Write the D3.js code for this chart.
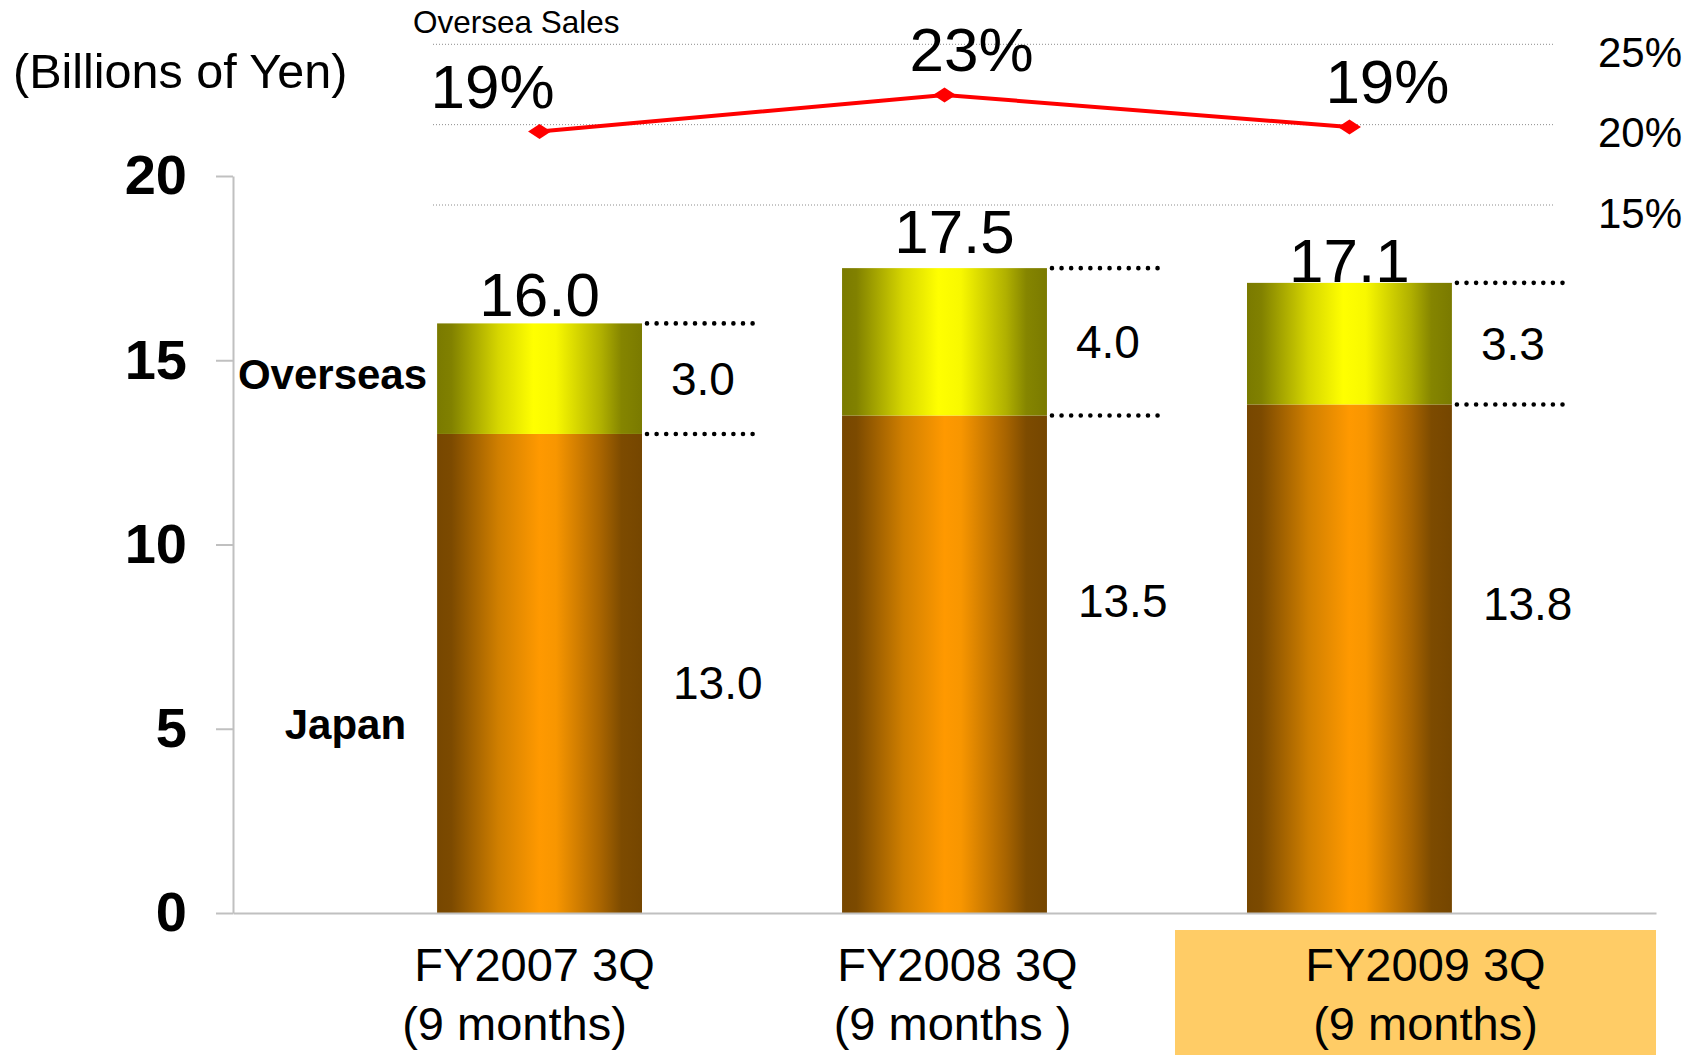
<!DOCTYPE html>
<html>
<head>
<meta charset="utf-8">
<script src="https://cdn.jsdelivr.net/npm/d3@7"></script>
<style>
  html, body { margin: 0; padding: 0; background: #fff; }
  svg { display: block; font-family: "Liberation Sans", Arial, sans-serif; }
</style>
</head>
<body>
<svg id="chart" width="1692" height="1055"></svg>
<script>
// Sales by region, nine-month cumulative figures (billions of yen)
const categories = ["FY2007 3Q", "FY2008 3Q", "FY2009 3Q"];
const periodLabels = ["(9 months)", "(9 months )", "(9 months)"];
const japanSales = [13.0, 13.5, 13.8];
const overseasSales = [3.0, 4.0, 3.3];
const totalSales = [16.0, 17.5, 17.1];
const overseasShare = [18.8, 22.9, 19.3];   // overseas share of sales, %
const salesTicks = [0, 5, 10, 15, 20];
const shareTicks = [15, 20, 25];
const highlighted = "FY2009 3Q";

// Hand-placed label nudges (pixels), one per period
const shareLabelShiftX = [-47, 27, 38];
const japanLabelShiftY = [10, -63, -55];
const totalLabelGap = [7, 15, 1];
const catLabelShiftX = [-5, 13, 0];
const periodLabelShiftX = [-25, 8, 0];

const svg = d3.select("#chart");
const W = 1692, H = 1055;

// Scales
const axisX = 233, axisRight = 1656;
const x = d3.scaleBand().domain(categories).range([axisX, axisRight])
  .paddingInner(0.494).paddingOuter(0.504);
const y = d3.scaleLinear().domain([0, 20]).range([913, 176]);
const yShare = d3.scaleLinear().domain([15, 25]).range([205, 44.3]);
const yLine = d3.scaleLinear().domain([18.8, 22.9]).range([131.5, 95]);

// Gradients for cylinder-like bars
const defs = svg.append("defs");
function grad(id, stops) {
  const g = defs.append("linearGradient").attr("id", id)
    .attr("x1", 0).attr("x2", 1).attr("y1", 0).attr("y2", 0);
  stops.forEach(([o, c]) => g.append("stop").attr("offset", o).attr("stop-color", c));
}
grad("japanGrad", [[0, "#774700"], [0.07, "#7c4a00"], [0.3, "#d07f00"], [0.5, "#ff9900"],
  [0.58, "#f89600"], [0.8, "#a86400"], [0.9, "#7d4b00"], [1, "#754600"]]);
grad("overseasGrad", [[0, "#7a7a00"], [0.07, "#818100"], [0.3, "#d6d600"], [0.47, "#ffff00"],
  [0.58, "#f8f800"], [0.8, "#b0b000"], [0.9, "#858500"], [1, "#7a7a00"]]);

// Highlight box behind the latest period label
const hlX = x(highlighted) - 72;
svg.append("rect")
  .attr("x", hlX).attr("y", 930)
  .attr("width", axisRight - hlX).attr("height", H - 930)
  .attr("fill", "#ffcc66");

// Share gridlines (dotted)
svg.append("g").selectAll("line").data(shareTicks).join("line")
  .attr("x1", 433).attr("x2", 1555)
  .attr("y1", d => yShare(d)).attr("y2", d => yShare(d))
  .attr("stroke", "#8c8c8c").attr("stroke-width", 1)
  .attr("stroke-dasharray", "1,2");

svg.append("g").selectAll("text").data(shareTicks).join("text")
  .attr("x", 1682).attr("y", d => yShare(d) + 8)
  .attr("text-anchor", "end").attr("dominant-baseline", "central")
  .attr("font-size", 42).text(d => d + "%");

// Titles
svg.append("text").attr("x", 13).attr("y", 88)
  .attr("font-size", 48.5).text("(Billions of Yen)");
svg.append("text").attr("x", 413).attr("y", 33)
  .attr("font-size", 31.5).text("Oversea Sales");

// Y axis
const yAxis = svg.append("g").attr("transform", `translate(${axisX},0)`)
  .call(d3.axisLeft(y).tickValues(salesTicks).tickSize(17).tickSizeOuter(0).tickPadding(29));
yAxis.select(".domain").attr("stroke", "#c0c0c0").attr("stroke-width", 2);
yAxis.selectAll(".tick line").attr("stroke", "#c0c0c0").attr("stroke-width", 2);
yAxis.selectAll(".tick text").attr("font-size", 56).attr("font-weight", "bold")
  .attr("fill", "#000").attr("font-family", "Liberation Sans, Arial, sans-serif");

// Total labels (drawn beneath bars)
const rows = categories.map((c, i) => ({
  i, cat: c, japan: japanSales[i], overseas: overseasSales[i], total: totalSales[i],
  share: overseasShare[i], period: periodLabels[i]
}));

svg.append("g").selectAll("text").data(rows).join("text")
  .attr("x", d => x(d.cat) + x.bandwidth() / 2 + (d.i === 1 ? 10 : 0))
  .attr("y", d => y(d.total) - totalLabelGap[d.i])
  .attr("text-anchor", "middle").attr("font-size", 62)
  .text(d => d3.format(".1f")(d.total));

// Stacked bars
const bars = svg.append("g");
bars.selectAll("rect.japan").data(rows).join("rect").attr("class", "japan")
  .attr("x", d => x(d.cat)).attr("width", x.bandwidth())
  .attr("y", d => y(d.japan)).attr("height", d => y(0) - y(d.japan))
  .attr("fill", "url(#japanGrad)");
bars.selectAll("rect.overseas").data(rows).join("rect").attr("class", "overseas")
  .attr("x", d => x(d.cat)).attr("width", x.bandwidth())
  .attr("y", d => y(d.japan + d.overseas)).attr("height", d => y(d.japan) - y(d.japan + d.overseas))
  .attr("fill", "url(#overseasGrad)");

// X axis baseline
const xAxis = svg.append("g").attr("transform", `translate(0,${y(0)})`)
  .call(d3.axisBottom(x).tickSize(0).tickFormat(""));
xAxis.select(".domain").attr("stroke", "#c0c0c0").attr("stroke-width", 2);

// Dotted leaders at the segment boundaries
const leaders = svg.append("g");
rows.forEach(d => {
  [d.japan + d.overseas, d.japan].forEach(v => {
    leaders.append("line")
      .attr("x1", x(d.cat) + x.bandwidth() + 5).attr("x2", x(d.cat) + x.bandwidth() + 112)
      .attr("y1", y(v)).attr("y2", y(v))
      .attr("stroke", "#000").attr("stroke-width", 4.6)
      .attr("stroke-linecap", "round").attr("stroke-dasharray", "0,9.6");
  });
});

// Segment value labels
const segLabels = svg.append("g").attr("font-size", 46);
segLabels.selectAll("text.ov").data(rows).join("text").attr("class", "ov")
  .attr("x", d => x(d.cat) + x.bandwidth() + 29)
  .attr("y", d => y(d.japan + d.overseas / 2))
  .attr("dominant-baseline", "central")
  .text(d => d3.format(".1f")(d.overseas));
segLabels.selectAll("text.jp").data(rows).join("text").attr("class", "jp")
  .attr("x", d => x(d.cat) + x.bandwidth() + 31)
  .attr("y", d => y(d.japan / 2) + japanLabelShiftY[d.i])
  .attr("dominant-baseline", "central")
  .text(d => d3.format(".1f")(d.japan));

// Series names beside the first bar
const first = rows[0];
svg.append("text")
  .attr("x", x(first.cat) - 10).attr("y", y(first.japan + first.overseas / 2) - 4)
  .attr("text-anchor", "end").attr("dominant-baseline", "central")
  .attr("font-size", 42).attr("font-weight", "bold").text("Overseas");
svg.append("text")
  .attr("x", x(first.cat) - 31).attr("y", y(5) - 4)
  .attr("text-anchor", "end").attr("dominant-baseline", "central")
  .attr("font-size", 42).attr("font-weight", "bold").text("Japan");

// Category labels
const catG = svg.append("g").attr("font-size", 47).attr("text-anchor", "middle");
rows.forEach(d => {
  const base = d.cat === highlighted ? (hlX + axisRight) / 2 + 10 : x(d.cat) + x.bandwidth() / 2;
  catG.append("text").attr("x", base + catLabelShiftX[d.i]).attr("y", 981).text(d.cat);
  catG.append("text").attr("x", base + periodLabelShiftX[d.i]).attr("y", 1040).text(d.period);
});

// Overseas share line
const cx = d => x(d.cat) + x.bandwidth() / 2;
svg.append("path").datum(rows)
  .attr("fill", "none").attr("stroke", "#ff0000").attr("stroke-width", 4)
  .attr("d", d3.line().x(cx).y(d => yLine(d.share)));
svg.append("g").selectAll("path").data(rows).join("path")
  .attr("transform", d => `translate(${cx(d)},${yLine(d.share)})`)
  .attr("d", "M-11.5,0L0,-7.5L11.5,0L0,7.5Z").attr("fill", "#ff0000");
svg.append("g").selectAll("text").data(rows).join("text")
  .attr("x", d => cx(d) + shareLabelShiftX[d.i])
  .attr("y", d => yLine(d.share) - 24)
  .attr("text-anchor", "middle").attr("font-size", 62)
  .text(d => d3.format(".0f")(d.share) + "%");
</script>
</body>
</html>
